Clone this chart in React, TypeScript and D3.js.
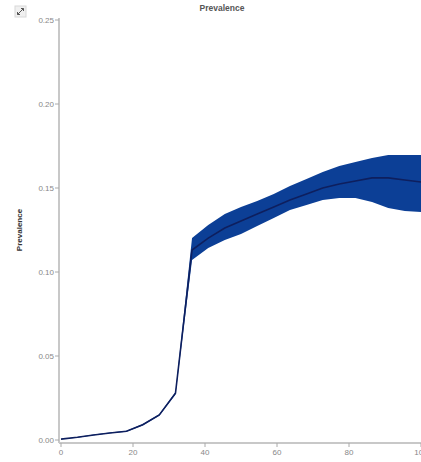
import React from "react";
import * as d3 from "d3";

const ages = [0, 4.55, 9.09, 13.6, 18.2, 22.7, 27.3, 31.8, 36.4, 40.9, 45.5, 50, 54.5, 59.1, 63.6, 68.2, 72.7, 77.3, 81.8, 86.4, 90.9, 95.5, 100];
const meanPrev = [0.0005, 0.0016, 0.003, 0.0042, 0.0052, 0.0091, 0.0149, 0.0278, 0.1131, 0.1202, 0.1262, 0.1304, 0.1345, 0.1387, 0.1429, 0.1464, 0.15, 0.1524, 0.1542, 0.156, 0.156, 0.1548, 0.1536];
const upperPrev = [0.0006, 0.0018, 0.0032, 0.0044, 0.0055, 0.0095, 0.0154, 0.0285, 0.1202, 0.128, 0.1345, 0.1387, 0.1423, 0.1464, 0.1512, 0.1554, 0.1595, 0.1631, 0.1655, 0.1679, 0.1696, 0.1696, 0.1696];
const lowerPrev = [0.0004, 0.0014, 0.0028, 0.004, 0.0049, 0.0087, 0.0144, 0.0271, 0.1071, 0.1143, 0.119, 0.1226, 0.1274, 0.1321, 0.1369, 0.1399, 0.1429, 0.144, 0.144, 0.1417, 0.1381, 0.1363, 0.1357];
const xTicks = [0, 20, 40, 60, 80, 100];
const yTicks = [0, 0.05, 0.1, 0.15, 0.2, 0.25];

export default function App() {
  const W = 421, H = 462;
  const x = d3.scaleLinear().domain([0, 100]).range([61, 421]);
  const y = d3.scaleLinear().domain([0, 0.25]).range([440, 20]);
  const pts = ages.map((a, i) => ({ a, m: meanPrev[i], u: upperPrev[i], l: lowerPrev[i] }));
  const area = d3.area<any>().x(d => x(d.a)).y0(d => y(d.l)).y1(d => y(d.u));
  const line = d3.line<any>().x(d => x(d.a)).y(d => y(d.m));
  const axisX = 59, axisY = 443;
  const font = "'Liberation Sans', Arial, sans-serif";
  return (
    <svg width={W} height={H} style={{ position: "absolute", left: 0, top: 0 }} fontFamily={font}>
      <rect width={W} height={H} fill="#fff" />
      <g>
        <rect x={15} y={6} width={11} height={11} fill="#f0f0f0" stroke="#d8d8d8" />
        <path d="M17.5,14.5 L23.5,8.5 M21,8.5 L23.5,8.5 L23.5,11 M17.5,12 L17.5,14.5 L20,14.5" stroke="#555" strokeWidth={1} fill="none" />
      </g>
      <text x={222} y={11} textAnchor="middle" fontSize={8.5} fontWeight="bold" fill="#555">Prevalence</text>
      <text transform={`translate(22,230) rotate(-90)`} textAnchor="middle" fontSize={8} fontWeight="bold" fill="#333">Prevalence</text>
      <path d={area(pts) || ""} fill="#0c3f96" />
      <path d={line(pts) || ""} fill="none" stroke="#0e1f5e" strokeWidth={1.6} />
      <line x1={axisX} x2={axisX} y1={18} y2={axisY} stroke="#c8c8c8" strokeWidth={2} />
      <line x1={axisX} x2={W} y1={axisY} y2={axisY} stroke="#c8c8c8" strokeWidth={2} />
      {yTicks.map(t => (
        <g key={t}>
          <line x1={axisX - 4} x2={axisX} y1={y(t)} y2={y(t)} stroke="#aaa" />
          <text x={axisX - 5} y={y(t) + 3} textAnchor="end" fontSize={8} fill="#888">{t.toFixed(2)}</text>
        </g>
      ))}
      {xTicks.map(t => (
        <g key={t}>
          <line x1={x(t)} x2={x(t)} y1={axisY} y2={axisY + 4} stroke="#aaa" />
          <text x={x(t)} y={axisY + 12} textAnchor="middle" fontSize={8} fill="#888">{t}</text>
        </g>
      ))}
    </svg>
  );
}
